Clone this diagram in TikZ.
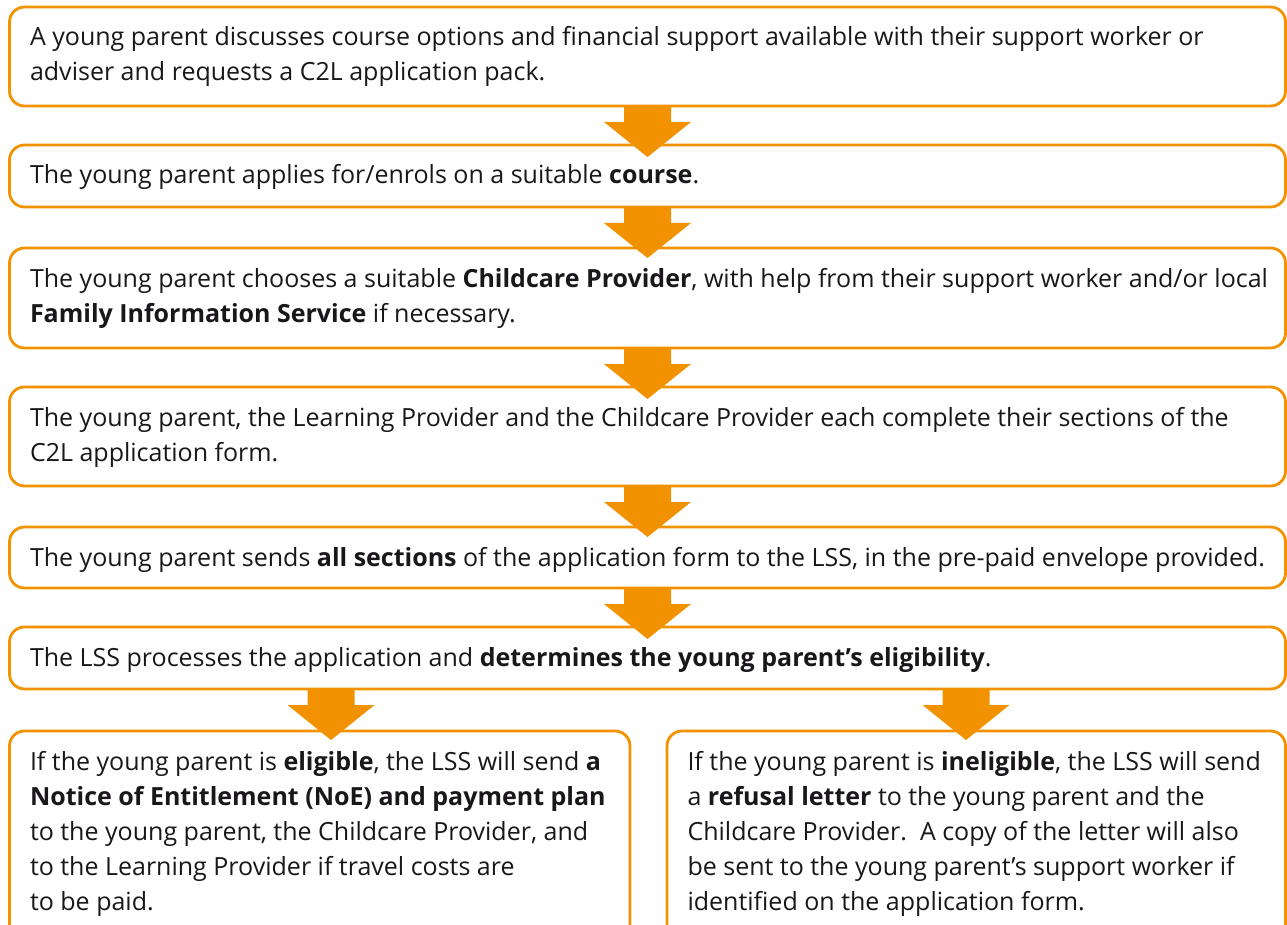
\documentclass[tikz,border=0pt]{standalone}
\usepackage{fontspec}
\setmainfont{Open Sans}
\definecolor{c2lorange}{RGB}{243,146,0}
\definecolor{txtcol}{RGB}{26,23,27}
\tikzset{
  flowbox/.style={draw=c2lorange, line width=2.8pt, rounded corners=15pt, fill=white, inner sep=0pt, outer sep=0pt, anchor=north west},
  boxtext/.style={anchor=north west, inner sep=0pt, outer sep=0pt, align=left, text=txtcol, font=\fontsize{25}{35}\selectfont},
  fatarrow/.style={fill=c2lorange, draw=none},
}
\newcommand\flowarrow[1]{%
  \fill[fatarrow] #1 ++(-23.5,0) -- ++(0,16) -- ++(-20,0) -- ++(43.5,35) -- ++(43.5,-35) -- ++(-20,0) -- ++(0,-16) -- cycle;}
\begin{document}
\begin{tikzpicture}[x=1pt,y=-1pt]
\useasboundingbox (0,0) rectangle (1287,925);
% boxes
\node[flowbox, minimum width=1276pt, minimum height=99pt] (b1) at (9.5,7) {};
\node[flowbox, minimum width=1276pt, minimum height=62pt] (b2) at (9.5,145) {};
\node[flowbox, minimum width=1276pt, minimum height=100pt] (b3) at (9.5,248) {};
\node[flowbox, minimum width=1276pt, minimum height=99pt] (b4) at (9.5,387) {};
\node[flowbox, minimum width=1276pt, minimum height=61pt] (b5) at (9.5,527) {};
\node[flowbox, minimum width=1276pt, minimum height=62pt] (b6) at (9.5,627) {};
\node[flowbox, minimum width=620.5pt, minimum height=220pt] (b7) at (9.5,731) {};
\node[flowbox, minimum width=618.5pt, minimum height=220pt] (b8) at (667,731) {};
% texts
\node[boxtext] (t1) at ([shift={(20.5,14.5)}]b1.north west) {\strut A young parent discusses course options and financial support available with their support worker or\\adviser and requests a C2L application pack.};
\node[boxtext] (t2) at ([shift={(20.5,14.5)}]b2.north west) {\strut The young parent applies for/enrols on a suitable \textbf{course}.};
\node[boxtext] (t3) at ([shift={(20.5,14.5)}]b3.north west) {\strut The young parent chooses a suitable \textbf{Childcare Provider}, with help from their support worker and/or local\\\textbf{Family Information Service} if necessary.};
\node[boxtext] (t4) at ([shift={(20.5,14.5)}]b4.north west) {\strut The young parent, the Learning Provider and the Childcare Provider each complete their sections of the\\C2L application form.};
\node[boxtext] (t5) at ([shift={(20.5,14.5)}]b5.north west) {\strut The young parent sends \textbf{all sections} of the application form to the LSS, in the pre-paid envelope provided.};
\node[boxtext] (t6) at ([shift={(20.5,14.5)}]b6.north west) {\strut The LSS processes the application and \textbf{determines the young parent's eligibility}.};
\node[boxtext] (t7) at ([shift={(20.5,14.5)}]b7.north west) {\strut If the young parent is \textbf{eligible}, the LSS will send \textbf{a}\\\textbf{Notice of Entitlement (NoE) and payment plan}\\to the young parent, the Childcare Provider, and\\to the Learning Provider if travel costs are\\to be paid.};
\node[boxtext] (t8) at ([shift={(20.5,14.5)}]b8.north west) {\strut If the young parent is \textbf{ineligible}, the LSS will send\\a \textbf{refusal letter} to the young parent and the\\Childcare Provider.\ \ A copy of the letter will also\\be sent to the young parent's support worker if\\identified on the application form.};
% arrows
\flowarrow{(b1.south)}
\flowarrow{(b2.south)}
\flowarrow{(b3.south)}
\flowarrow{(b4.south)}
\flowarrow{(b5.south)}
\flowarrow{([xshift=321.5pt]b6.south west)}
\flowarrow{([xshift=956.5pt]b6.south west)}
\end{tikzpicture}
\end{document}
